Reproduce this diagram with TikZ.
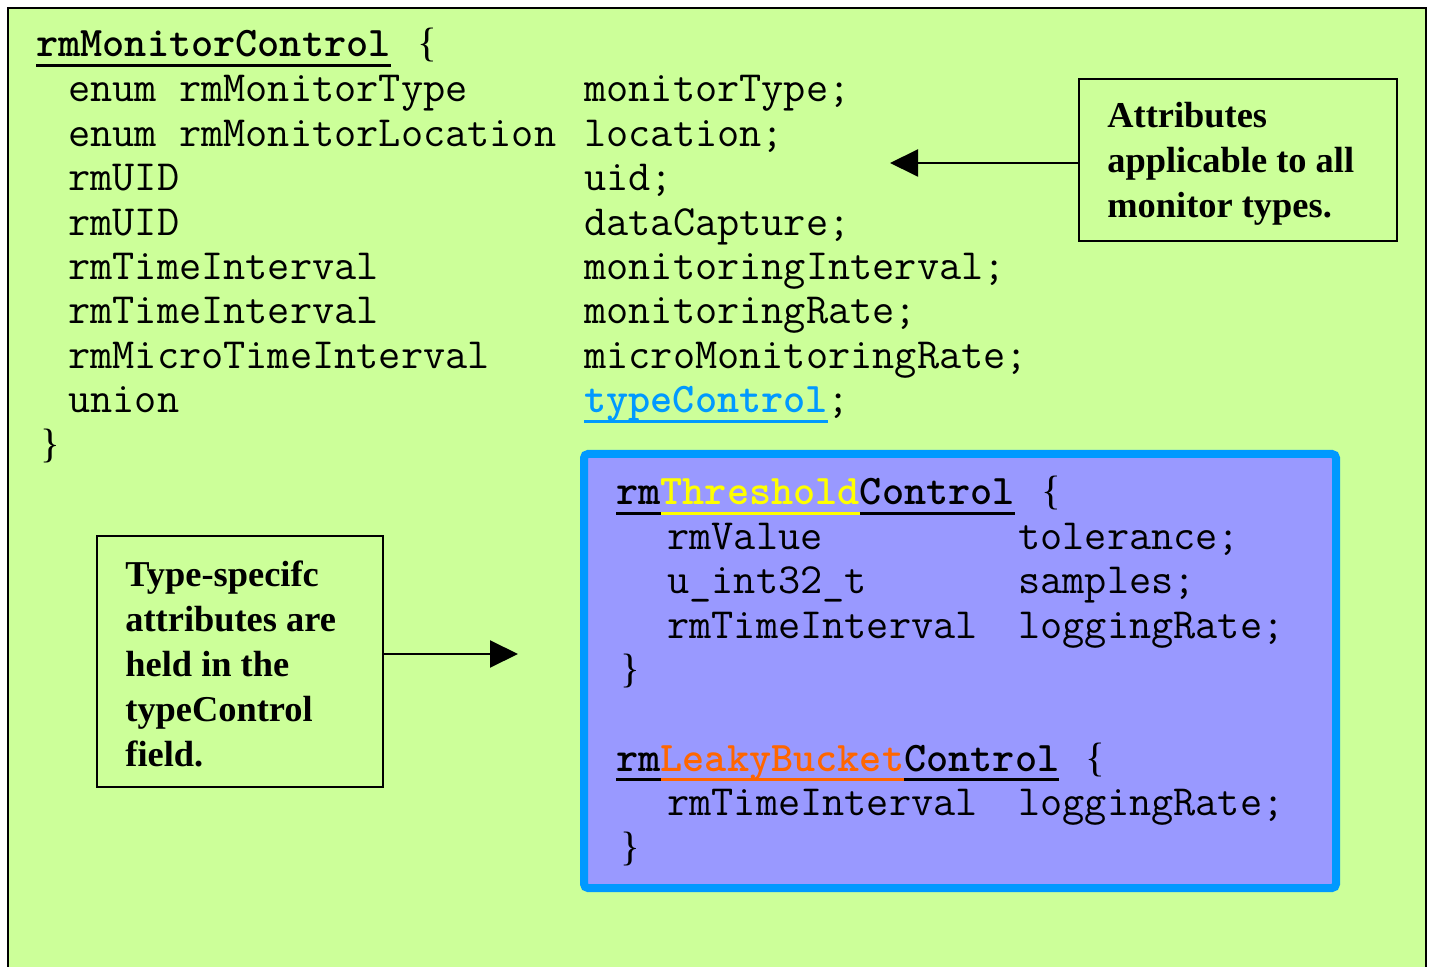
\documentclass[tikz,border=0pt]{standalone}
\usepackage{fontspec}
\setmainfont{Liberation Serif}
\usetikzlibrary{arrows.meta, positioning}

\definecolor{bggreen}{HTML}{CCFF99}
\definecolor{boxfill}{HTML}{9999FF}
\definecolor{boxblue}{HTML}{0099FF}
\definecolor{thryellow}{HTML}{FFFF00}
\definecolor{lkyorange}{HTML}{FF6600}

\newcommand{\codefont}{\fontsize{21.53}{22}\selectfont\ttfamily}
\newcommand{\codebold}{\fontsize{21.09}{22}\selectfont\bfseries}
\newcommand{\bracefont}{\fontsize{20.5}{22}\selectfont\rmfamily\mdseries}
\newcommand{\notefont}{\fontsize{18.2}{22.5}\selectfont\rmfamily\bfseries}
% coloured word with a coloured underline
\newsavebox{\ulbox}
\newcommand{\ulword}[2]{{\color{#1}\sbox{\ulbox}{#2}\rlap{\rule[-5pt]{\wd\ulbox}{1.5pt}}\usebox{\ulbox}}}

\begin{document}
\begin{tikzpicture}[x=0.5pt, y=-0.5pt, >={Triangle[length=14pt, width=13.5pt]},
  code/.style={font=\codefont, inner sep=0pt, anchor=base west},
  brace/.style={font=\bracefont, inner sep=0pt, anchor=base west},
  notebox/.style={draw, line width=1pt, inner sep=0pt, anchor=north west},
  notetext/.style={font=\notefont, align=left, inner sep=0pt, anchor=north west},
  arr/.style={->, line width=1pt}]
  \useasboundingbox (0,0) rectangle (1429,967);
  \fill[white] (0,0) rectangle (1429,967);
  % slide background
  \fill[bggreen] (8,8) rectangle (1426,967);
  \draw[line width=1pt] (8,967) -- (8,8) -- (1426,8) -- (1426,967);

  % main structure
  \node[code] (mainhdr) at (36,57) {{\codebold\ulword{black}{rmMonitorControl}}};
  \node[brace] (mainopen) at (417,57) {\{};
  \foreach \ty/\fd [count=\i] in {enum rmMonitorType/monitorType;,
      enum rmMonitorLocation/location;, rmUID/uid;, rmUID/dataCapture;,
      rmTimeInterval/monitoringInterval;, rmTimeInterval/monitoringRate;,
      rmMicroTimeInterval/microMonitoringRate;}{
    \node[code] (ty\i) at (68,{102+44.4*(\i-1)}) {\ty};
    \node[code] (fd\i) at (584,{102+44.4*(\i-1)}) {\fd};
  }
  \node[code] (ty8) at (68,412.8) {union};
  \node[code] (fd8) at (584,412.8) {{\codebold\ulword{boxblue}{typeControl}};};
  \node[brace] (mainclose) at (40,457.2) {\}};

  % type specific structures
  \draw[line width=4pt, draw=boxblue, fill=boxfill, rounded corners=2pt]
    (584,454) rectangle (1336,888);
  \node[code] (thrhdr) at (616,505) {{\codebold\ulword{black}{rm}\ulword{thryellow}{Threshold}\ulword{black}{Control}}};
  \node[brace] (thropen) at (1041,505) {\{};
  \foreach \ty/\fd [count=\i] in {rmValue/tolerance;, u\_int32\_t/samples;,
      rmTimeInterval/loggingRate;}{
    \node[code] (thrty\i) at (667,{549.4+44.4*(\i-1)}) {\ty};
    \node[code] (thrfd\i) at (1018,{549.4+44.4*(\i-1)}) {\fd};
  }
  \node[brace] (thrclose) at (620,682.6) {\}};
  \node[code] (lkyhdr) at (616,771.4) {{\codebold\ulword{black}{rm}\ulword{lkyorange}{LeakyBucket}\ulword{black}{Control}}};
  \node[brace] (lkyopen) at (1085,771.4) {\{};
  \node[code] (lkyty1) at (667,815.8) {rmTimeInterval};
  \node[code] (lkyfd1) at (1018,815.8) {loggingRate;};
  \node[brace] (lkyclose) at (620,860.2) {\}};

  % notes
  \node[notebox, minimum width=159pt, minimum height=81pt] (allbox) at (1078,78) {};
  \node[notetext] (alltxt) at (1107,102) {Attributes\\applicable to all\\monitor types.};
  \coordinate (alltip) at (890,163);
  \draw[arr] (alltip -| allbox.west) -- (alltip);

  \node[notebox, minimum width=143pt, minimum height=125.5pt] (typebox) at (96,535) {};
  \node[notetext] (typetxt) at (125,560) {Type-specifc\\attributes are\\held in the\\typeControl\\field.};
  \coordinate (typetip) at (518,654);
  \draw[arr] (typetip -| typebox.east) -- (typetip);
\end{tikzpicture}
\end{document}
